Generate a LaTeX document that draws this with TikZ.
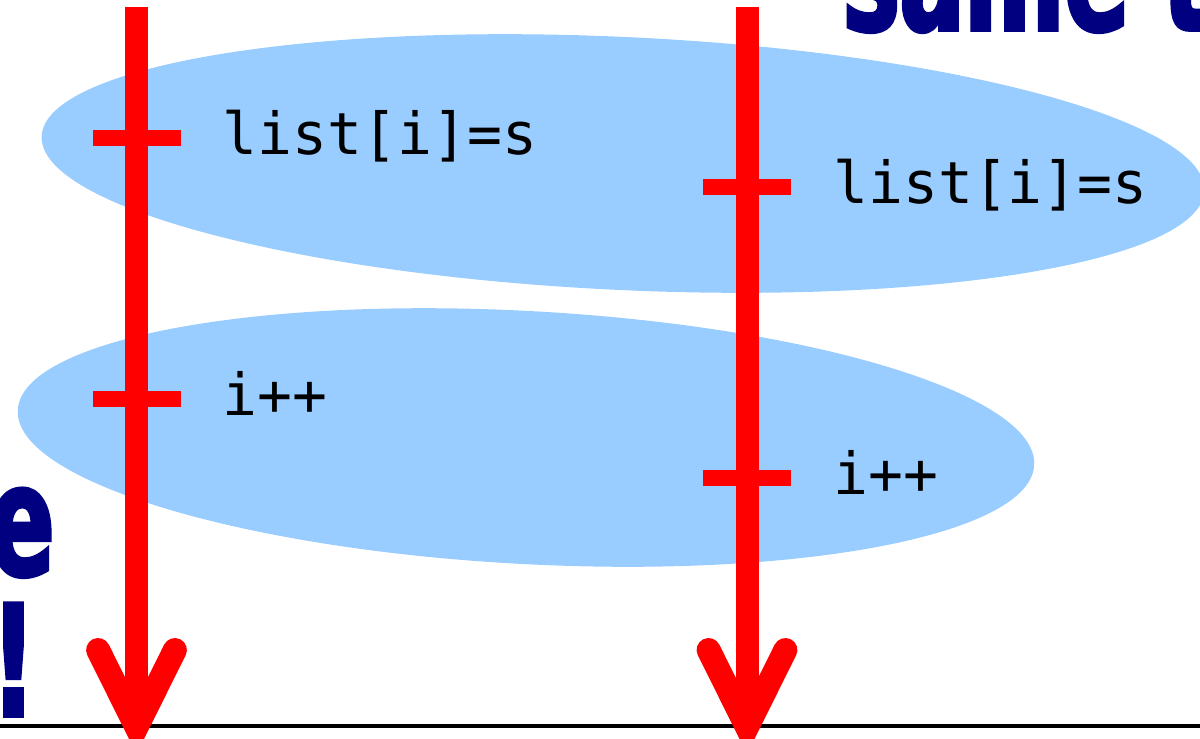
\documentclass[tikz,border=0pt]{standalone}
\usepackage{fontspec}
\setmonofont{DejaVu Sans Mono}
\newfontfamily\headfont[FakeStretch=0.62,FakeBold=2.5]{DejaVu Sans}
\usetikzlibrary{shapes.geometric, positioning}

\definecolor{lanered}{RGB}{255,0,0}
\definecolor{ovalblue}{RGB}{153,204,255}
\definecolor{titlenavy}{RGB}{0,0,128}

\tikzset{
  oval/.style={ellipse, fill=ovalblue, inner sep=0pt, minimum height=2.53cm},
  lane/.style={draw=lanered, line width=0.23cm},
  lanehead/.style={draw=lanered, line width=0.24cm, line cap=round, line join=miter},
  tick/.style={fill=lanered, inner sep=0pt, minimum width=0.88cm, minimum height=0.16cm},
  code/.style={font=\fontsize{16.5}{16.5}\selectfont\ttfamily, inner sep=0pt, anchor=base west, yshift=-0.16cm},
  shout/.style={font=\fontsize{44}{44}\selectfont\headfont\bfseries, text=titlenavy, inner sep=0pt},
}

\begin{document}
\begin{tikzpicture}
\clip (0,0) rectangle (12,-7.38);

% heading pieces
\node[shout, anchor=base west] (head) at (8.42,-0.30) {same time};
\node[shout, anchor=base east] (tailA) at (0.55,-5.75) {e};
\node[shout, anchor=base east] (tailB) at (0.36,-7.16) {!};

\draw[line width=1pt] (0,-7.26) -- (12,-7.26);

% the two operations that belong together
\node[oval, rotate=-2.7, minimum width=11.64cm] (setop) at (6.23,-1.635) {};
\node[oval, rotate=-3.1, minimum width=10.18cm] (incop) at (5.26,-4.375) {};

% thread lines
\coordinate (t1) at (1.365,-0.07);
\coordinate (h1) at (1.365,-7.27);
\coordinate (t2) at (7.47,-0.07);
\coordinate (h2) at (7.47,-7.27);

\draw[lane] (t1) -- (h1);
\draw[lanehead] (h1) ++(-0.384,0.77) -- (h1) -- ++(0.384,0.77);
\draw[lane] (t2) -- (h2);
\draw[lanehead] (h2) ++(-0.384,0.77) -- (h2) -- ++(0.384,0.77);

% steps on each thread
\node[tick] (k1) at (1.365,-1.38) {};
\node[tick] (k2) at (1.365,-3.99) {};
\node[tick] (k3) at (7.47,-1.87) {};
\node[tick] (k4) at (7.47,-4.78) {};

\node[right=0.41cm of k1, code] (c1) {list[i]=s};
\node[right=0.41cm of k2, code] (c2) {i++};
\node[right=0.41cm of k3, code] (c3) {list[i]=s};
\node[right=0.41cm of k4, code] (c4) {i++};
\end{tikzpicture}
\end{document}
